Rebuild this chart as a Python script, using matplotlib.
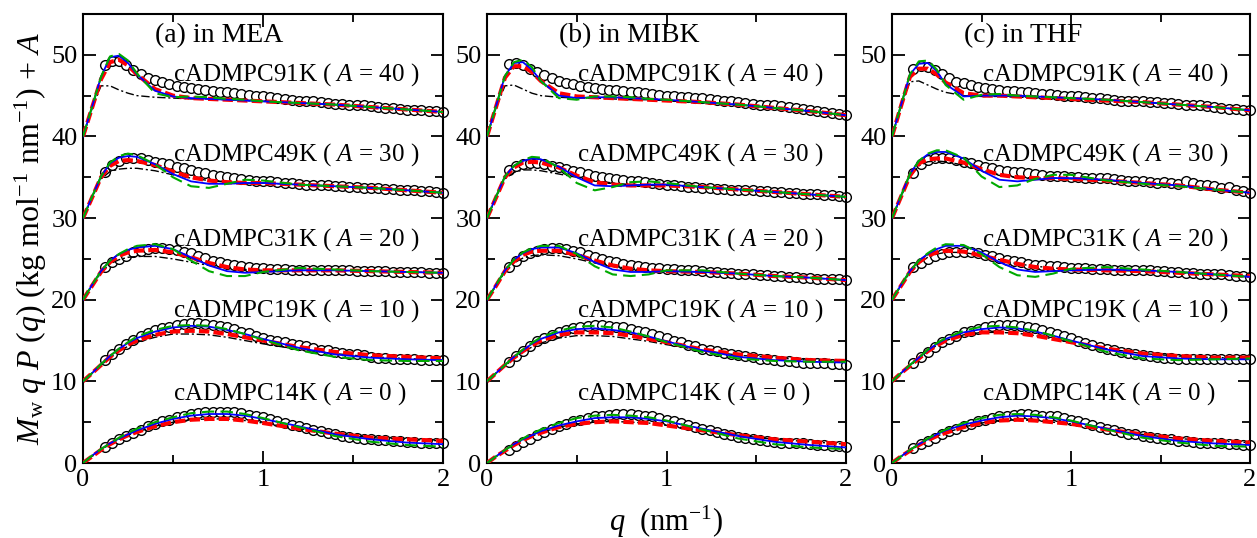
import numpy as np
import matplotlib
matplotlib.use("Agg")
import matplotlib.pyplot as plt
from matplotlib.ticker import MultipleLocator

plt.rcParams['font.family'] = 'Liberation Serif'
plt.rcParams['mathtext.fontset'] = 'custom'
plt.rcParams['mathtext.rm'] = 'Liberation Serif'
plt.rcParams['mathtext.it'] = 'Liberation Serif:italic'

samples = ["cADMPC14K", "cADMPC19K", "cADMPC31K", "cADMPC49K", "cADMPC91K"]
offsets = [0, 10, 20, 30, 40]
label_y = [8.5, 18.7, 27.4, 37.8, 47.6]
titles = ["(a) in MEA", "(b) in MIBK", "(c) in THF"]

# q of the measured points (0.12 ... 2.00, every 0.04) and of the model curves
q_exp = np.round(np.arange(0.12, 2.001, 0.04), 2)
q_fit = [0, 0.05, 0.1, 0.15, 0.2, 0.25, 0.3, 0.4, 0.5, 0.6, 0.7, 0.8, 0.9, 1.0, 1.2, 1.4, 1.6, 1.8, 2.0]

# ---- (a) MEA ----  values without the offset A, order 14K, 19K, 31K, 49K, 91K
mea_exp = [
    [2.0, 2.4, 2.9, 3.3, 3.7, 4.1, 4.5, 4.8, 5.1, 5.3, 5.6, 5.8,
     6.0, 6.1, 6.2, 6.3, 6.3, 6.3, 6.2, 6.1, 5.9, 5.8, 5.6, 5.4,
     5.2, 4.9, 4.7, 4.5, 4.3, 4.1, 3.9, 3.7, 3.5, 3.3, 3.2, 3.1,
     3.0, 2.9, 2.8, 2.8, 2.7, 2.7, 2.6, 2.6, 2.5, 2.5, 2.4, 2.4],
    [2.6, 3.4, 4.0, 4.6, 5.1, 5.6, 5.9, 6.3, 6.5, 6.7, 6.9, 7.0,
     7.1, 7.1, 7.0, 6.9, 6.8, 6.6, 6.4, 6.1, 5.9, 5.6, 5.3, 5.1,
     5.0, 4.8, 4.6, 4.5, 4.3, 4.1, 3.9, 3.8, 3.6, 3.5, 3.4, 3.3,
     3.2, 3.0, 2.9, 2.9, 2.8, 2.8, 2.7, 2.7, 2.6, 2.6, 2.6, 2.6],
    [4.0, 4.6, 5.0, 5.4, 5.8, 6.0, 6.2, 6.3, 6.3, 6.2, 6.1, 5.9,
     5.7, 5.4, 5.1, 4.8, 4.6, 4.4, 4.2, 4.1, 4.0, 3.9, 3.9, 3.8,
     3.8, 3.8, 3.7, 3.7, 3.7, 3.7, 3.6, 3.6, 3.6, 3.6, 3.6, 3.5,
     3.5, 3.5, 3.5, 3.5, 3.4, 3.4, 3.4, 3.4, 3.4, 3.3, 3.3, 3.3],
    [5.7, 6.5, 7.0, 7.3, 7.4, 7.3, 7.1, 6.9, 6.8, 6.6, 6.3, 6.1,
     5.9, 5.7, 5.5, 5.3, 5.2, 5.0, 4.9, 4.8, 4.7, 4.6, 4.5, 4.5,
     4.4, 4.3, 4.3, 4.2, 4.1, 4.1, 4.0, 4.0, 3.9, 3.9, 3.8, 3.8,
     3.7, 3.7, 3.7, 3.6, 3.6, 3.5, 3.5, 3.4, 3.3, 3.3, 3.2, 3.1],
    [8.8, 9.3, 9.2, 8.7, 8.1, 7.6, 7.2, 6.9, 6.7, 6.4, 6.2, 6.0,
     5.9, 5.8, 5.7, 5.6, 5.5, 5.4, 5.3, 5.2, 5.1, 5.0, 4.9, 4.8,
     4.7, 4.6, 4.5, 4.4, 4.3, 4.3, 4.2, 4.1, 4.0, 4.0, 3.9, 3.8,
     3.8, 3.7, 3.6, 3.5, 3.5, 3.4, 3.3, 3.3, 3.2, 3.1, 3.1, 3.0],
]
mea_black = [
    [0, 0.8, 1.6, 2.3, 2.9, 3.4, 3.8, 4.5, 5.0, 5.3, 5.4, 5.4, 5.2, 4.9, 4.2, 3.6, 3.1, 2.9, 2.7],
    [0, 1.0, 2.0, 2.9, 3.7, 4.3, 4.8, 5.4, 5.8, 5.8, 5.7, 5.4, 5.0, 4.6, 3.9, 3.4, 3.0, 2.8, 2.6],
    [0, 1.7, 3.3, 4.4, 4.9, 5.2, 5.3, 5.3, 5.0, 4.6, 4.2, 3.9, 3.7, 3.6, 3.6, 3.6, 3.5, 3.4, 3.3],
    [0, 2.5, 4.8, 5.7, 6.0, 6.1, 6.1, 5.8, 5.3, 4.9, 4.6, 4.4, 4.3, 4.3, 4.1, 3.9, 3.7, 3.4, 3.1],
    [0, 3.4, 6.2, 6.2, 5.7, 5.3, 5.0, 4.8, 4.7, 4.6, 4.6, 4.5, 4.4, 4.3, 4.1, 3.9, 3.6, 3.3, 3.0],
]
mea_red = [
    [0, 0.8, 1.6, 2.3, 2.9, 3.4, 3.8, 4.5, 5.0, 5.3, 5.4, 5.4, 5.2, 4.9, 4.2, 3.6, 3.1, 2.9, 2.7],
    [0, 1.0, 2.0, 3.0, 3.8, 4.5, 5.0, 5.7, 6.1, 6.2, 6.1, 5.8, 5.4, 5.0, 4.2, 3.6, 3.2, 3.0, 2.8],
    [0, 1.7, 3.4, 4.6, 5.4, 5.8, 6.0, 6.1, 5.8, 5.2, 4.5, 4.0, 3.7, 3.6, 3.6, 3.6, 3.5, 3.4, 3.3],
    [0, 2.5, 5.0, 6.4, 7.0, 7.1, 7.0, 6.5, 5.7, 5.0, 4.6, 4.4, 4.3, 4.3, 4.1, 3.9, 3.7, 3.4, 3.1],
    [0, 3.5, 7.0, 9.1, 9.4, 8.7, 7.6, 5.8, 5.0, 4.7, 4.6, 4.5, 4.4, 4.3, 4.1, 3.9, 3.6, 3.3, 3.0],
]
mea_blue = [
    [0, 0.9, 1.7, 2.4, 3.0, 3.5, 4.0, 4.8, 5.4, 5.8, 6.0, 6.0, 5.8, 5.4, 4.5, 3.5, 2.9, 2.5, 2.3],
    [0, 1.0, 2.1, 3.1, 4.0, 4.7, 5.3, 6.1, 6.6, 6.8, 6.7, 6.3, 5.8, 5.2, 4.1, 3.3, 2.9, 2.7, 2.6],
    [0, 1.8, 3.5, 4.8, 5.6, 6.1, 6.4, 6.6, 6.2, 5.2, 4.2, 3.5, 3.3, 3.4, 3.6, 3.6, 3.5, 3.4, 3.3],
    [0, 2.6, 5.1, 6.7, 7.4, 7.6, 7.5, 6.6, 5.4, 4.5, 4.2, 4.2, 4.3, 4.3, 4.1, 3.9, 3.7, 3.4, 3.1],
    [0, 3.6, 7.3, 9.7, 9.9, 9.0, 7.6, 5.6, 4.9, 4.7, 4.6, 4.5, 4.4, 4.3, 4.1, 3.9, 3.6, 3.3, 3.0],
]
mea_green = [
    [0, 0.9, 1.7, 2.4, 3.1, 3.7, 4.2, 5.0, 5.6, 6.1, 6.3, 6.3, 6.0, 5.5, 4.4, 3.3, 2.6, 2.2, 2.0],
    [0, 1.0, 2.1, 3.1, 4.0, 4.8, 5.5, 6.3, 6.8, 6.9, 6.8, 6.4, 5.8, 5.1, 3.8, 3.0, 2.6, 2.5, 2.5],
    [0, 1.8, 3.5, 4.8, 5.6, 6.2, 6.6, 6.8, 6.2, 4.8, 3.5, 2.9, 2.9, 3.4, 3.9, 3.7, 3.5, 3.4, 3.3],
    [0, 2.6, 5.1, 6.8, 7.6, 7.9, 7.7, 6.6, 5.0, 3.9, 3.7, 4.2, 4.7, 4.6, 4.1, 3.9, 3.7, 3.4, 3.1],
    [0, 3.6, 7.3, 9.8, 10.1, 9.3, 7.7, 5.3, 4.8, 4.9, 4.8, 4.6, 4.5, 4.3, 4.1, 3.9, 3.6, 3.3, 3.0],
]

# ---- (b) MIBK ----
mibk_exp = [
    [1.6, 2.1, 2.6, 3.0, 3.4, 3.8, 4.2, 4.5, 4.8, 5.1, 5.3, 5.5,
     5.7, 5.8, 5.9, 6.0, 6.0, 6.0, 5.9, 5.8, 5.7, 5.5, 5.3, 5.1,
     4.9, 4.6, 4.4, 4.2, 4.0, 3.8, 3.6, 3.4, 3.2, 3.1, 3.0, 2.8,
     2.7, 2.6, 2.5, 2.5, 2.4, 2.4, 2.3, 2.2, 2.2, 2.1, 2.1, 2.0],
    [2.4, 3.1, 3.7, 4.3, 4.9, 5.3, 5.7, 6.1, 6.3, 6.5, 6.7, 6.8,
     6.9, 6.9, 6.8, 6.7, 6.6, 6.4, 6.2, 6.0, 5.8, 5.6, 5.3, 5.0,
     4.8, 4.5, 4.3, 4.0, 3.8, 3.7, 3.5, 3.4, 3.2, 3.1, 3.0, 2.8,
     2.7, 2.6, 2.5, 2.5, 2.4, 2.3, 2.3, 2.2, 2.2, 2.1, 2.1, 2.0],
    [4.0, 4.7, 5.3, 5.7, 6.0, 6.2, 6.3, 6.3, 6.2, 6.0, 5.8, 5.5,
     5.2, 5.0, 4.8, 4.6, 4.4, 4.2, 4.1, 4.0, 3.9, 3.9, 3.8, 3.8,
     3.7, 3.6, 3.6, 3.5, 3.4, 3.4, 3.3, 3.3, 3.2, 3.1, 3.1, 3.0,
     3.0, 2.9, 2.9, 2.8, 2.8, 2.7, 2.7, 2.6, 2.6, 2.5, 2.5, 2.4],
    [5.9, 6.4, 6.6, 6.7, 6.7, 6.6, 6.4, 6.2, 6.0, 5.8, 5.6, 5.4,
     5.2, 5.0, 4.9, 4.8, 4.7, 4.6, 4.5, 4.4, 4.3, 4.2, 4.1, 4.0,
     3.9, 3.8, 3.8, 3.7, 3.7, 3.6, 3.6, 3.5, 3.5, 3.4, 3.4, 3.3,
     3.3, 3.2, 3.2, 3.1, 3.1, 3.0, 2.9, 2.9, 2.8, 2.8, 2.7, 2.6],
    [8.9, 9.0, 8.8, 8.3, 7.9, 7.5, 7.1, 6.8, 6.6, 6.4, 6.2, 6.0,
     5.9, 5.8, 5.7, 5.7, 5.6, 5.5, 5.4, 5.3, 5.2, 5.1, 5.0, 4.9,
     4.8, 4.8, 4.7, 4.7, 4.6, 4.5, 4.4, 4.3, 4.2, 4.1, 4.0, 3.9,
     3.9, 3.8, 3.7, 3.6, 3.5, 3.4, 3.2, 3.1, 3.0, 2.9, 2.7, 2.6],
]
mibk_black = [
    [0, 0.8, 1.5, 2.2, 2.8, 3.3, 3.7, 4.4, 4.8, 5.0, 5.1, 5.0, 4.9, 4.6, 4.0, 3.4, 2.9, 2.6, 2.3],
    [0, 1.0, 1.9, 2.8, 3.6, 4.2, 4.7, 5.3, 5.6, 5.6, 5.5, 5.2, 4.9, 4.5, 3.8, 3.2, 2.9, 2.6, 2.5],
    [0, 1.7, 3.4, 4.5, 5.1, 5.4, 5.5, 5.4, 5.0, 4.5, 4.1, 3.8, 3.6, 3.5, 3.4, 3.2, 2.9, 2.7, 2.4],
    [0, 2.5, 4.8, 5.6, 5.9, 5.9, 5.8, 5.4, 5.0, 4.6, 4.3, 4.1, 4.0, 4.0, 3.8, 3.5, 3.2, 2.9, 2.6],
    [0, 3.5, 6.2, 6.3, 5.8, 5.3, 5.0, 4.8, 4.7, 4.7, 4.6, 4.5, 4.5, 4.4, 4.2, 3.9, 3.5, 3.1, 2.6],
]
mibk_red = [
    [0, 0.8, 1.5, 2.2, 2.8, 3.3, 3.7, 4.4, 4.8, 5.0, 5.1, 5.0, 4.9, 4.6, 4.0, 3.4, 2.9, 2.6, 2.3],
    [0, 1.0, 2.0, 2.9, 3.7, 4.4, 5.0, 5.7, 6.0, 6.0, 5.9, 5.6, 5.2, 4.8, 3.9, 3.3, 2.9, 2.6, 2.5],
    [0, 1.7, 3.5, 4.7, 5.5, 5.9, 6.0, 6.0, 5.5, 4.8, 4.2, 3.8, 3.6, 3.5, 3.4, 3.2, 2.9, 2.7, 2.4],
    [0, 2.5, 5.0, 6.2, 6.8, 6.9, 6.8, 6.2, 5.2, 4.4, 4.1, 4.0, 4.0, 4.0, 3.8, 3.5, 3.2, 2.9, 2.6],
    [0, 3.6, 7.2, 8.6, 8.6, 7.9, 6.8, 5.3, 4.9, 4.8, 4.7, 4.6, 4.5, 4.4, 4.2, 3.9, 3.5, 3.1, 2.6],
]
mibk_blue = [
    [0, 0.8, 1.6, 2.3, 2.9, 3.4, 3.9, 4.6, 5.1, 5.5, 5.6, 5.6, 5.4, 5.1, 4.2, 3.3, 2.6, 2.2, 1.9],
    [0, 1.0, 2.0, 3.0, 3.8, 4.6, 5.2, 6.0, 6.4, 6.5, 6.3, 6.0, 5.5, 4.9, 3.8, 3.0, 2.6, 2.4, 2.3],
    [0, 1.8, 3.6, 4.9, 5.7, 6.2, 6.4, 6.4, 5.7, 4.6, 3.7, 3.4, 3.4, 3.5, 3.4, 3.2, 2.9, 2.7, 2.4],
    [0, 2.6, 5.1, 6.4, 7.0, 7.3, 7.2, 6.3, 5.0, 4.0, 3.9, 4.0, 4.1, 4.1, 3.8, 3.5, 3.2, 2.9, 2.6],
    [0, 3.7, 7.4, 9.0, 9.1, 8.2, 6.8, 5.0, 4.7, 4.8, 4.8, 4.7, 4.6, 4.5, 4.2, 3.9, 3.5, 3.1, 2.6],
]
mibk_green = [
    [0, 0.8, 1.6, 2.3, 3.0, 3.6, 4.1, 4.9, 5.5, 5.8, 5.9, 5.8, 5.6, 5.2, 4.1, 3.0, 2.3, 1.9, 1.7],
    [0, 1.0, 2.0, 3.0, 3.9, 4.7, 5.4, 6.2, 6.7, 6.8, 6.6, 6.1, 5.5, 4.8, 3.6, 2.8, 2.5, 2.4, 2.4],
    [0, 1.8, 3.6, 4.9, 5.8, 6.3, 6.6, 6.6, 5.6, 4.1, 3.1, 2.9, 3.1, 3.6, 3.6, 3.2, 2.9, 2.7, 2.4],
    [0, 2.6, 5.1, 6.4, 7.1, 7.5, 7.4, 6.2, 4.3, 3.4, 3.8, 4.4, 4.5, 4.3, 3.8, 3.5, 3.2, 2.9, 2.6],
    [0, 3.7, 7.4, 9.1, 9.4, 8.5, 6.8, 4.7, 4.5, 4.9, 4.9, 4.8, 4.6, 4.5, 4.2, 3.9, 3.5, 3.1, 2.6],
]

# ---- (c) THF ----
thf_exp = [
    [1.8, 2.3, 2.7, 3.1, 3.5, 3.9, 4.2, 4.5, 4.8, 5.1, 5.3, 5.5,
     5.7, 5.8, 5.9, 6.0, 6.0, 5.9, 5.8, 5.8, 5.7, 5.5, 5.3, 5.1,
     4.9, 4.6, 4.4, 4.2, 4.0, 3.8, 3.6, 3.5, 3.3, 3.2, 3.1, 3.0,
     2.9, 2.7, 2.7, 2.6, 2.5, 2.5, 2.4, 2.4, 2.3, 2.3, 2.2, 2.2],
    [2.3, 3.0, 3.6, 4.2, 4.8, 5.2, 5.6, 6.0, 6.2, 6.4, 6.6, 6.8,
     6.9, 6.9, 6.9, 6.8, 6.7, 6.5, 6.3, 6.1, 5.8, 5.6, 5.3, 5.0,
     4.7, 4.5, 4.2, 4.0, 3.8, 3.6, 3.5, 3.3, 3.2, 3.1, 3.0, 2.9,
     2.9, 2.8, 2.8, 2.7, 2.7, 2.7, 2.7, 2.7, 2.7, 2.7, 2.7, 2.7],
    [4.0, 4.5, 5.0, 5.3, 5.6, 5.8, 5.9, 5.9, 5.8, 5.7, 5.5, 5.3,
     5.1, 4.9, 4.7, 4.6, 4.4, 4.3, 4.2, 4.1, 4.1, 4.0, 3.9, 3.9,
     3.9, 3.8, 3.8, 3.8, 3.7, 3.7, 3.7, 3.6, 3.6, 3.6, 3.5, 3.5,
     3.4, 3.4, 3.3, 3.3, 3.2, 3.2, 3.1, 3.1, 3.0, 2.9, 2.9, 2.8],
    [5.5, 6.6, 7.1, 7.3, 7.4, 7.3, 7.1, 6.9, 6.7, 6.5, 6.3, 6.1,
     5.9, 5.8, 5.7, 5.6, 5.5, 5.4, 5.3, 5.2, 5.2, 5.1, 5.0, 5.0,
     4.9, 4.9, 4.9, 4.9, 4.8, 4.7, 4.6, 4.5, 4.5, 4.4, 4.3, 4.4,
     4.3, 4.2, 4.5, 4.3, 4.1, 4.0, 3.9, 3.7, 3.8, 3.5, 3.3, 3.1],
    [8.3, 8.6, 8.5, 8.1, 7.6, 7.1, 6.7, 6.5, 6.3, 6.1, 5.9, 5.8,
     5.7, 5.6, 5.6, 5.5, 5.4, 5.3, 5.2, 5.2, 5.1, 5.0, 5.0, 4.9,
     4.8, 4.7, 4.7, 4.6, 4.5, 4.4, 4.4, 4.3, 4.3, 4.2, 4.2, 4.1,
     4.1, 4.0, 3.9, 3.8, 3.8, 3.7, 3.6, 3.5, 3.4, 3.4, 3.3, 3.2],
]
thf_black = [
    [0, 0.8, 1.5, 2.2, 2.8, 3.3, 3.7, 4.4, 4.9, 5.2, 5.3, 5.2, 5.0, 4.8, 4.1, 3.5, 3.0, 2.7, 2.5],
    [0, 1.0, 1.9, 2.8, 3.7, 4.4, 5.0, 5.7, 6.0, 6.0, 5.9, 5.6, 5.2, 4.8, 4.0, 3.4, 3.1, 2.9, 2.9],
    [0, 1.7, 3.3, 4.5, 5.2, 5.6, 5.8, 5.8, 5.4, 4.9, 4.4, 4.1, 3.9, 3.7, 3.6, 3.5, 3.3, 3.1, 2.8],
    [0, 2.6, 5.1, 6.4, 6.9, 7.0, 6.9, 6.5, 5.9, 5.3, 5.0, 4.9, 4.9, 4.8, 4.6, 4.3, 4.0, 3.5, 3.1],
    [0, 3.6, 6.7, 6.8, 6.3, 5.8, 5.4, 5.0, 4.9, 4.9, 4.8, 4.8, 4.7, 4.6, 4.4, 4.2, 3.9, 3.6, 3.2],
]
thf_red = [
    [0, 0.8, 1.5, 2.2, 2.8, 3.3, 3.7, 4.4, 4.9, 5.2, 5.3, 5.2, 5.0, 4.8, 4.1, 3.5, 3.0, 2.7, 2.5],
    [0, 1.0, 1.9, 2.8, 3.7, 4.4, 5.0, 5.7, 6.0, 6.0, 5.9, 5.6, 5.2, 4.8, 4.0, 3.4, 3.1, 2.9, 2.9],
    [0, 1.7, 3.4, 4.6, 5.4, 5.8, 6.0, 5.9, 5.4, 4.9, 4.4, 4.0, 3.8, 3.7, 3.6, 3.5, 3.3, 3.1, 2.9],
    [0, 2.6, 5.2, 6.7, 7.2, 7.3, 7.3, 6.8, 6.0, 5.3, 5.0, 4.9, 4.9, 4.8, 4.6, 4.3, 4.0, 3.5, 3.1],
    [0, 3.7, 7.3, 8.3, 8.3, 7.6, 6.6, 5.3, 5.0, 5.0, 4.9, 4.8, 4.7, 4.6, 4.4, 4.2, 3.9, 3.6, 3.2],
]
thf_blue = [
    [0, 0.8, 1.6, 2.3, 2.9, 3.5, 4.0, 4.7, 5.2, 5.6, 5.8, 5.7, 5.5, 5.1, 4.2, 3.3, 2.7, 2.4, 2.2],
    [0, 1.0, 2.0, 2.9, 3.8, 4.6, 5.2, 6.0, 6.4, 6.6, 6.5, 6.1, 5.6, 5.0, 3.9, 3.1, 2.8, 2.7, 2.7],
    [0, 1.8, 3.5, 4.8, 5.6, 6.2, 6.6, 6.6, 5.8, 4.6, 3.7, 3.4, 3.5, 3.6, 3.7, 3.6, 3.4, 3.1, 2.8],
    [0, 2.7, 5.4, 7.0, 7.8, 8.1, 8.1, 7.3, 5.8, 4.7, 4.5, 4.7, 4.9, 4.9, 4.7, 4.3, 4.0, 3.5, 3.1],
    [0, 3.8, 7.6, 8.9, 9.0, 8.0, 6.4, 4.9, 5.0, 5.0, 5.0, 4.9, 4.8, 4.7, 4.5, 4.2, 3.9, 3.6, 3.2],
]
thf_green = [
    [0, 0.8, 1.6, 2.3, 3.0, 3.6, 4.1, 4.9, 5.5, 5.9, 6.0, 5.9, 5.6, 5.2, 4.1, 3.1, 2.5, 2.1, 2.0],
    [0, 1.0, 2.0, 2.9, 3.9, 4.7, 5.3, 6.2, 6.7, 6.8, 6.6, 6.2, 5.6, 4.9, 3.6, 2.8, 2.6, 2.7, 2.8],
    [0, 1.8, 3.5, 4.8, 5.7, 6.4, 6.8, 6.7, 5.6, 4.0, 3.0, 2.8, 3.2, 3.8, 4.0, 3.7, 3.4, 3.1, 2.8],
    [0, 2.7, 5.4, 7.0, 7.9, 8.3, 8.3, 7.4, 5.1, 3.8, 4.0, 4.8, 5.3, 5.3, 4.6, 4.2, 3.9, 3.5, 3.1],
    [0, 3.8, 7.6, 9.2, 9.3, 8.2, 6.3, 4.5, 5.1, 5.2, 5.0, 4.9, 4.8, 4.7, 4.5, 4.2, 3.9, 3.6, 3.2],
]

panels = [
    (mea_exp, mea_black, mea_red, mea_blue, mea_green),
    (mibk_exp, mibk_black, mibk_red, mibk_blue, mibk_green),
    (thf_exp, thf_black, thf_red, thf_blue, thf_green),
]
lefts = [83, 487, 892]
widths = [360, 359, 358]

fig = plt.figure(figsize=(12.57, 5.38), dpi=100)

for p, (exp, black, red, blue, green) in enumerate(panels):
    ax = fig.add_axes([lefts[p] / 1257, 75 / 538, widths[p] / 1257, 449 / 538])
    for i, A in enumerate(offsets):
        ax.plot(q_exp, np.array(exp[i]) + A, 'o', ms=7, mfc='white', mec='black',
                mew=1.0, clip_on=False, zorder=2)
        ax.plot(q_fit, np.array(black[i]) + A, color='black', lw=1.0,
                dashes=(6, 2, 1.5, 2), zorder=3)
        ax.plot(q_fit, np.array(red[i]) + A, color='red', lw=3, dashes=(2.5, 1), zorder=4)
        ax.plot(q_fit, np.array(blue[i]) + A, color='blue', lw=1.3, zorder=5)
        ax.plot(q_fit, np.array(green[i]) + A, color='#00aa00', lw=1.5,
                dashes=(6, 3), zorder=6)
        ax.text(0.5, label_y[i], f"{samples[i]} ( $A$ = {A} )", fontsize=18, va='center')
    ax.text(0.4, 52.4, titles[p], fontsize=20, va='center')

    ax.set_xlim(0, 2)
    ax.set_ylim(0, 55)
    ax.xaxis.set_major_locator(MultipleLocator(1))
    ax.xaxis.set_minor_locator(MultipleLocator(0.5))
    ax.yaxis.set_major_locator(MultipleLocator(10))
    ax.yaxis.set_minor_locator(MultipleLocator(5))
    ax.tick_params(which='both', direction='in', top=True, right=True, width=1.3)
    ax.tick_params(which='major', length=9, labelsize=19, pad=4)
    ax.tick_params(which='minor', length=6)
    for s in ax.spines.values():
        s.set_linewidth(1.5)

fig.text(31 / 1257, (538 - 238) / 538,
         r"$M_{\rm w}\ q\ P\ (q)$ (kg mol$^{-1}$ nm$^{-1}$) + $A$",
         rotation=90, fontsize=23, ha='center', va='center')
fig.text(666 / 1257, (538 - 522) / 538, r"$q$  (nm$^{-1}$)", fontsize=22,
         ha='center', va='center')

fig.savefig("out.png", dpi=100)
